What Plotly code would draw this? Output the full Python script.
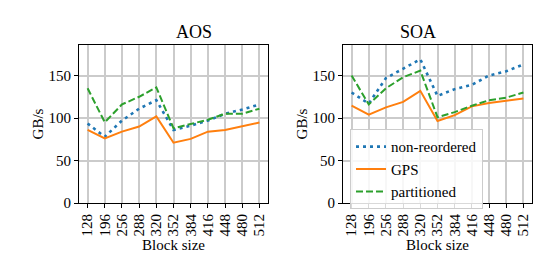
import plotly.graph_objects as go

block_sizes = ["128", "196", "256", "288", "320", "352", "384", "416", "448", "480", "512"]

aos_non_reordered = [93.5, 78, 97, 111, 121, 86, 91, 97, 105, 110, 116]
aos_gps = [86, 76, 84, 90, 102, 71, 75.5, 84, 86, 90.5, 94.7]
aos_partitioned = [135, 95, 116, 125, 136, 88, 93, 98, 105, 105, 111]

soa_non_reordered = [130, 117, 147, 158, 169, 126, 134, 139, 150, 155, 163]
soa_gps = [114.5, 104, 112.6, 119, 132, 96.6, 103.4, 113.7, 117.6, 120, 123]
soa_partitioned = [150, 116, 135, 148, 155.7, 101, 107, 114.5, 121, 124, 130]

series_names = ["non-reordered", "GPS", "partitioned"]
colors = ["#1f77b4", "#ff7f0e", "#2ca02c"]
dashes = ["3px,4px", "solid", "7px,3px"]
widths = [2.6, 2, 2]

FONT = "Liberation Serif"
W, H = 545, 273

fig = go.Figure()

panels = [
    ("x", "y", [aos_non_reordered, aos_gps, aos_partitioned], False),
    ("x2", "y2", [soa_non_reordered, soa_gps, soa_partitioned], True),
]
for xa, ya, data, show in panels:
    for name, vals, c, d, w in zip(series_names, data, colors, dashes, widths):
        fig.add_trace(go.Scatter(
            x=block_sizes, y=vals, mode="lines", name=name,
            line=dict(color=c, dash=d, width=w),
            xaxis=xa, yaxis=ya, showlegend=show,
        ))

def px_x(p):
    return p / W

def px_y(p):
    return 1 - p / H

common_x = dict(
    type="category", range=[-0.5, 10.5], tickmode="array", tickvals=block_sizes, ticktext=block_sizes,
    showgrid=True, gridcolor="#cbcbcb", gridwidth=1.5,
    showline=True, linecolor="black", linewidth=1, mirror=True,
    ticks="outside", ticklen=4, tickwidth=1, tickcolor="black", tickangle=-90,
    tickfont=dict(family=FONT, size=15, color="black"), zeroline=False,
    title=dict(text="Block size", font=dict(family=FONT, size=15, color="black"), standoff=3),
)
common_y = dict(
    range=[0, 186], tickvals=[0, 50, 100, 150], showgrid=True, gridcolor="#cbcbcb", gridwidth=1.5,
    showline=True, linecolor="black", linewidth=1, mirror=True,
    ticks="outside", ticklen=4, tickwidth=1, tickcolor="black",
    tickfont=dict(family=FONT, size=15, color="black"), zeroline=False,
    title=dict(text="GB/s", font=dict(family=FONT, size=15, color="black"), standoff=1),
)

fig.update_layout(
    width=W, height=H,
    margin=dict(l=0, r=0, t=0, b=0),
    paper_bgcolor="white", plot_bgcolor="white",
    xaxis=dict(domain=[px_x(71), px_x(260)], anchor="y", **common_x),
    yaxis=dict(domain=[px_y(201), px_y(38)], anchor="x", **common_y),
    xaxis2=dict(domain=[px_x(335), px_x(524)], anchor="y2", **common_x),
    yaxis2=dict(domain=[px_y(201), px_y(38)], anchor="x2", **common_y),
    legend=dict(
        x=px_x(342), y=px_y(125), xanchor="left", yanchor="top",
        bgcolor="rgba(255,255,255,0.85)", bordercolor="#cccccc", borderwidth=1,
        font=dict(family=FONT, size=15, color="black"), tracegroupgap=0,
    ),
    annotations=[
        dict(text="AOS", x=px_x(165.5), y=px_y(12), xref="paper", yref="paper",
             showarrow=False, font=dict(family=FONT, size=18, color="black")),
        dict(text="SOA", x=px_x(429.5), y=px_y(12), xref="paper", yref="paper",
             showarrow=False, font=dict(family=FONT, size=18, color="black")),
    ],
)

fig.write_html("out.html")
